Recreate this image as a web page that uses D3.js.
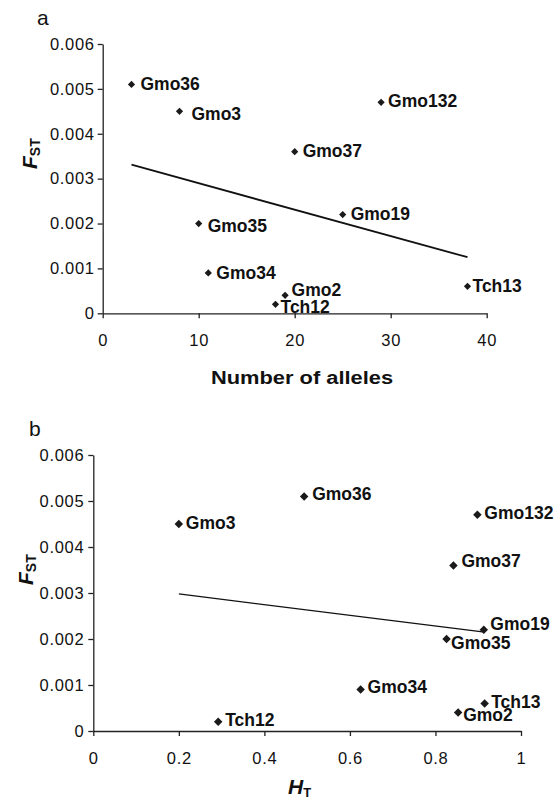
<!DOCTYPE html>
<html>
<head>
<meta charset="utf-8">
<script src="https://cdn.jsdelivr.net/npm/d3@7"></script>
<style>
  body { margin: 0; background: #fff; }
  svg { display: block; }
  .tick text { font-family: "Liberation Sans", Arial, sans-serif; font-size: 16.5px; fill: #111; letter-spacing: 0.7px; }
  .domain, .tick line { stroke: #222; stroke-width: 1.3px; }
  .lbl { font-family: "Liberation Sans", Arial, sans-serif; font-weight: bold; font-size: 17.5px; fill: #111; }
</style>
</head>
<body>
<div id="chart"></div>
<script>
// loci names (same order in both panels)
var loci = ["Gmo36", "Gmo3", "Gmo132", "Gmo37", "Gmo19", "Gmo35", "Gmo34", "Gmo2", "Tch12", "Tch13"];
// F_ST per locus
var fst = [0.0051, 0.0045, 0.0047, 0.0036, 0.0022, 0.0020, 0.0009, 0.0004, 0.0002, 0.0006];
// panel a: number of alleles
var nAlleles = [3, 8, 29, 20, 25, 10, 11, 19, 18, 38];
// panel b: H_T
var hT = [0.493, 0.20, 0.898, 0.842, 0.913, 0.826, 0.625, 0.853, 0.292, 0.915];

// trend lines (x, y)
var trendA = [[3, 0.00331], [38, 0.00125]];
var trendB = [[0.20, 0.00298], [0.915, 0.00215]];

var yTicks = [0, 0.001, 0.002, 0.003, 0.004, 0.005, 0.006];
var xTicksA = [0, 10, 20, 30, 40];
var xTicksB = [0, 0.2, 0.4, 0.6, 0.8, 1];

// label offsets from marker (px), layout only
var offA = {
    Gmo36: [9, 5.5], Gmo3: [12, 9], Gmo132: [7, 4.5], Gmo37: [8, 5], Gmo19: [8, 5],
    Gmo35: [9, 8], Gmo34: [8, 6], Gmo2: [6.5, 1], Tch12: [5, 8.5], Tch13: [5, 5.5]
};
var offB = {
    Gmo36: [8, 4], Gmo3: [7, 5], Gmo132: [7, 4.5], Gmo37: [8, 2], Gmo19: [6.5, 0],
    Gmo35: [4.5, 10], Gmo34: [7, 3], Gmo2: [5, 8.5], Tch12: [7, 4], Tch13: [6.5, 5]
};

var svg = d3.select("#chart").append("svg")
    .attr("width", 554)
    .attr("height", 797);

var fmtY = function (d) { return d === 0 ? "0" : d3.format(".3f")(d); };

var drawPanel = function (opt) {
    var x = d3.scaleLinear().domain(opt.xDomain).range(opt.xRange);
    var y = d3.scaleLinear().domain([0, 0.006]).range(opt.yRange);

    var g = svg.append("g");

    g.append("g")
        .attr("transform", "translate(" + opt.xRange[0] + ",0)")
        .call(d3.axisLeft(y).tickValues(yTicks).tickSize(5).tickSizeOuter(0).tickPadding(opt.yPad).tickFormat(fmtY));

    g.append("g")
        .attr("transform", "translate(0," + opt.yRange[0] + ")")
        .call(d3.axisBottom(x).tickValues(opt.xTicks).tickSize(5).tickSizeOuter(0).tickPadding(16)
            .tickFormat(opt.xFmt));

    // trend line
    g.append("path")
        .datum(opt.trend)
        .attr("fill", "none")
        .attr("stroke", "#111")
        .attr("stroke-width", opt.lineW)
        .attr("d", d3.line().x(function (d) { return x(d[0]); }).y(function (d) { return y(d[1]); }));

    var sym = d3.symbol().type(d3.symbolSquare).size(opt.markSize);

    var pts = g.selectAll(".pt")
        .data(loci.map(function (name, i) { return {name: name, x: opt.xs[i], y: fst[i]}; }))
        .enter().append("g")
        .attr("class", "pt");

    pts.append("path")
        .attr("d", sym)
        .attr("fill", "#1a1a1a")
        .attr("transform", function (d) {
            return "translate(" + x(d.x) + "," + y(d.y) + ") rotate(45)";
        });

    pts.append("text")
        .attr("class", "lbl")
        .attr("x", function (d) { return x(d.x) + opt.off[d.name][0]; })
        .attr("y", function (d) { return y(d.y) + opt.off[d.name][1]; })
        .text(function (d) { return d.name; });

    // panel letter
    svg.append("text")
        .attr("x", opt.letterPos[0])
        .attr("y", opt.letterPos[1])
        .style("font-family", "Liberation Sans, Arial, sans-serif")
        .style("font-size", "21px")
        .attr("fill", "#111")
        .text(opt.letter);

    // F_ST label, rotated
    var fl = svg.append("text")
        .attr("transform", "translate(" + opt.fstPos[0] + "," + opt.fstPos[1] + ") rotate(-90)")
        .style("font-family", "Liberation Sans, Arial, sans-serif")
        .style("font-weight", "bold")
        .attr("fill", "#111");
    fl.append("tspan").style("font-style", "italic").style("font-size", "21px").text("F");
    fl.append("tspan").style("font-size", "14px").attr("dy", 3).text("ST");
};

drawPanel({
    xDomain: [0, 40], xRange: [102.7, 486.7], yRange: [313.3, 44],
    xTicks: xTicksA, xFmt: function (d) { return String(d); },
    xs: nAlleles, trend: trendA, off: offA,
    lineW: 1.8, markSize: 26, yPad: 3,
    letter: "a", letterPos: [37, 25], fstPos: [37, 169]
});

drawPanel({
    xDomain: [0, 1], xRange: [93.3, 521], yRange: [731, 455],
    xTicks: xTicksB, xFmt: function (d) { return String(+d.toFixed(1)); },
    xs: hT, trend: trendB, off: offB,
    lineW: 1.2, markSize: 36, yPad: 4,
    letter: "b", letterPos: [29, 436], fstPos: [33, 585]
});

// x axis titles
svg.append("text")
    .attr("transform", "translate(302,384) scale(1.15,1)")
    .attr("text-anchor", "middle")
    .style("font-family", "Liberation Sans, Arial, sans-serif")
    .style("font-weight", "bold")
    .style("font-size", "19px")
    .attr("fill", "#111")
    .text("Number of alleles");

var ht = svg.append("text")
    .attr("x", 288)
    .attr("y", 794)
    .style("font-family", "Liberation Sans, Arial, sans-serif")
    .style("font-weight", "bold")
    .attr("fill", "#111");
ht.append("tspan").style("font-style", "italic").style("font-size", "21px").text("H");
ht.append("tspan").style("font-size", "13px").attr("dy", 3).text("T");
</script>
</body>
</html>
